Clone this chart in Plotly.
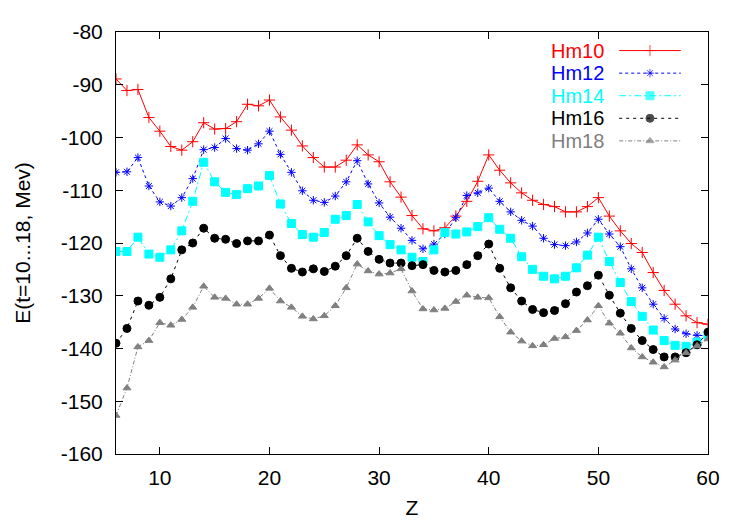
import plotly.graph_objects as go

# Z values (integer, 6..60)
z = list(range(6, 61))

hm10 = [-88.9, -91.1, -90.9, -96.2, -98.8, -101.7, -102.4, -100.8, -97.2, -98.4,
        -98.3, -97.0, -93.7, -94.0, -92.9, -96.1, -98.6, -101.6, -103.8, -105.6,
        -105.6, -104.3, -101.4, -103.3, -104.6, -108.4, -111.3, -114.8, -117.3, -117.7,
        -117.1, -114.9, -112.1, -108.3, -103.3, -106.2, -108.6, -110.5, -111.9, -112.7,
        -113.1, -114.1, -114.1, -113.1, -111.4, -114.9, -117.7, -120.1, -121.8, -125.6,
        -129.0, -131.6, -133.8, -135.1, -135.4]

hm12 = [-106.6, -106.5, -103.8, -109.2, -112.2, -113.0, -111.4, -107.8, -102.3, -101.9,
        -100.2, -102.1, -102.4, -101.2, -98.8, -103.2, -106.6, -110.1, -111.9, -112.3,
        -111.1, -108.4, -104.4, -108.8, -112.4, -115.1, -117.2, -119.5, -121.1, -120.2,
        -118.3, -115.2, -111.0, -110.5, -109.6, -112.1, -114.1, -115.7, -116.8, -119.1,
        -120.3, -120.5, -119.8, -118.1, -115.5, -118.3, -120.7, -124.9, -128.5, -131.6,
        -134.3, -136.3, -137.2, -137.5, -137.6]

hm14 = [-121.6, -121.6, -118.9, -122.1, -122.7, -121.3, -117.7, -112.1, -104.7, -108.4,
        -110.4, -110.8, -109.7, -109.2, -107.2, -112.6, -116.3, -118.4, -118.9, -118.0,
        -115.5, -114.8, -112.7, -116.0, -118.6, -120.3, -121.3, -122.7, -123.5, -121.3,
        -118.0, -118.3, -117.9, -116.9, -115.2, -117.4, -119.1, -122.6, -125.0, -126.3,
        -126.8, -126.3, -124.7, -122.3, -118.9, -123.5, -127.5, -131.1, -133.9, -136.5,
        -138.5, -139.4, -139.6, -138.8, -137.4]

hm16 = [-139.0, -136.2, -131.0, -131.8, -130.3, -126.8, -121.3, -120.0, -117.2, -119.1,
        -119.3, -120.1, -119.6, -119.6, -118.5, -122.4, -124.8, -125.5, -124.9, -125.4,
        -124.4, -122.4, -119.1, -121.6, -123.1, -123.8, -123.8, -124.3, -124.1, -125.2,
        -125.5, -125.2, -124.1, -122.4, -120.2, -124.8, -128.5, -131.0, -132.6, -133.2,
        -132.8, -131.5, -129.3, -128.1, -126.1, -129.9, -133.3, -136.2, -138.5, -140.2,
        -141.6, -141.6, -140.8, -139.3, -136.9]

hm18 = [-152.7, -147.5, -139.7, -138.5, -135.1, -135.6, -134.5, -132.2, -128.2, -130.3,
        -130.5, -131.6, -131.6, -130.5, -128.6, -131.0, -132.2, -133.9, -134.4, -133.8,
        -131.9, -128.5, -124.0, -125.3, -125.9, -125.7, -124.9, -129.1, -132.5, -132.7,
        -132.4, -131.1, -129.9, -130.3, -130.4, -134.0, -136.9, -138.6, -139.5, -139.3,
        -138.1, -137.8, -136.6, -134.6, -131.9, -135.2, -137.1, -139.9, -141.6, -142.6,
        -143.5, -142.2, -140.8, -139.5, -138.2]

x_ticks = [10, 20, 30, 40, 50, 60]
y_ticks = [-160, -150, -140, -130, -120, -110, -100, -90, -80]
y_ticklabels = ["-160", "-150", "-140", "-130", "-120", "-110", "-100", "-90", "-80"]

names = ["Hm10", "Hm12", "Hm14", "Hm16", "Hm18"]
series = [hm10, hm12, hm14, hm16, hm18]
colors = ["#ff0000", "#0000ff", "#00ffff", "#000000", "#808080"]
symbols = ["cross-thin-open", "asterisk-open", "square", "circle", "triangle-up"]
msizes = [8, 7, 8, 8, 7]
dashes = ["solid", "3px,3px", "7px,3px,2px,3px", "3px,4px", "4px,2px,1px,2px"]

FONT = "Liberation Sans, Arial, sans-serif"

fig = go.Figure()

for name, ys, col, sym, ms, dash in zip(names, series, colors, symbols, msizes, dashes):
    fig.add_trace(go.Scatter(
        x=z, y=ys, name=name, mode="lines+markers",
        line=dict(color=col, width=1, dash=dash),
        marker=dict(symbol=sym, size=ms, color=col, line=dict(color=col, width=1)),
        showlegend=False,
    ))

# gnuplot-style key: coloured label on the left, sample line + point on the right
key_y0, key_dy = 0.956, 0.0535
for i, (name, col, sym, ms, dash) in enumerate(zip(names, colors, symbols, msizes, dashes)):
    ky = key_y0 - i * key_dy
    fig.add_annotation(x=0.826, y=ky, xref="paper", yref="paper", text=name,
                       showarrow=False, xanchor="right", yanchor="middle",
                       borderpad=0, font=dict(family=FONT, size=20, color=col))
    fig.add_trace(go.Scatter(
        x=[0.85, 0.902, 0.954], y=[ky, ky, ky], xaxis="x2", yaxis="y2",
        mode="lines+markers", showlegend=False, hoverinfo="skip",
        line=dict(color=col, width=1, dash=dash),
        marker=dict(symbol=sym, size=[0, ms, 0], color=col, line=dict(color=col, width=1)),
    ))

axis_common = dict(showline=True, mirror="ticks", linecolor="black", linewidth=1,
                   ticks="inside", ticklen=7, tickcolor="black", showgrid=False,
                   zeroline=False, tickfont=dict(family=FONT, size=21, color="black"))

# the page body has an 8px margin, so the margins are trimmed to keep the plot
# box at the same place as in the reference
fig.update_layout(
    width=747, height=523,
    margin=dict(l=108, r=47, t=18, b=77),
    paper_bgcolor="white", plot_bgcolor="white",
    font=dict(family=FONT, size=21, color="black"),
    xaxis=dict(range=[6, 60], tickvals=x_ticks, ticklabelstandoff=5,
               title=dict(text="Z", font=dict(family=FONT, size=21), standoff=12),
               **axis_common),
    yaxis=dict(range=[-160, -80], tickvals=y_ticks, ticktext=y_ticklabels,
               ticklabelstandoff=8,
               title=dict(text="E(t=10...18, Mev)", font=dict(family=FONT, size=21), standoff=24),
               **axis_common),
    xaxis2=dict(range=[0, 1], overlaying="x", visible=False, fixedrange=True),
    yaxis2=dict(range=[0, 1], overlaying="y", visible=False, fixedrange=True),
)

fig.write_html("out.html")
